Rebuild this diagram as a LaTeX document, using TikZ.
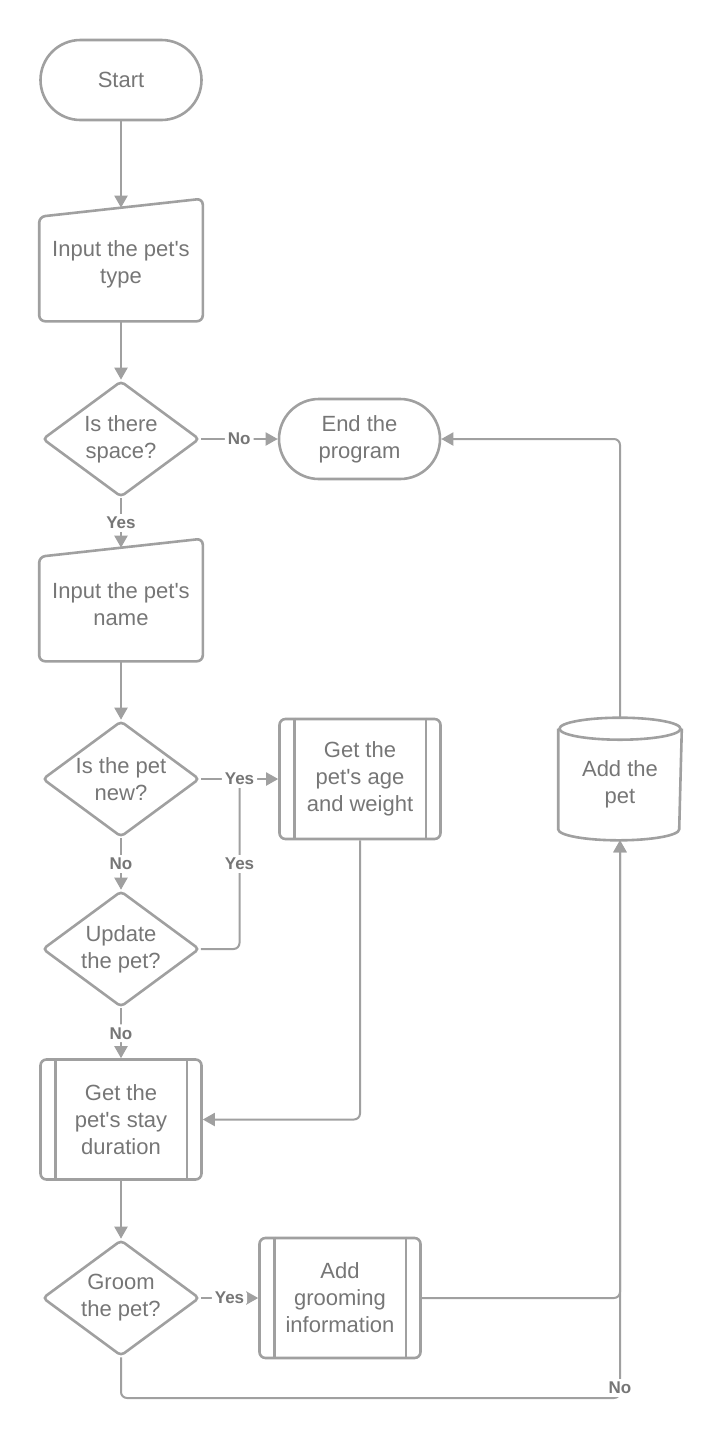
\documentclass[tikz,border=0pt]{standalone}
\usepackage{fontspec}
\newfontfamily\chartfont{Liberation Sans}
\usetikzlibrary{arrows.meta,positioning,shapes.geometric,calc}
\definecolor{linegray}{RGB}{160,160,160}
\definecolor{textgray}{RGB}{118,118,118}

\begin{document}
\begin{tikzpicture}[x=0.5pt,y=-0.5pt,on grid,>={Triangle[length=6pt,width=6.5pt]},
        base/.style={font=\chartfont\fontsize{11}{13.5}\selectfont,text=textgray,align=center,
          inner sep=0pt,line width=1.3pt,draw=linegray},
        term/.style={base,rectangle,rounded corners=20pt,minimum width=80.5pt,minimum height=40pt},
        inbox/.style={base,draw=none,minimum width=80.5pt,minimum height=55.5pt},
        decision/.style={base,diamond,aspect=1.35,rounded corners=2pt,minimum width=78.5pt,minimum height=58pt},
        subproc/.style={base,rectangle,rounded corners=3pt,minimum width=80.5pt,minimum height=60pt},
        store/.style={base,draw=none,minimum width=60.5pt,minimum height=54.5pt},
        outline/.style={draw=linegray,line width=1.3pt},
        conn/.style={draw=linegray,line width=1pt,rounded corners=3pt},
        lbl/.style={font=\chartfont\fontsize{8.5}{10}\selectfont\bfseries,text=textgray,fill=white,inner sep=1.5pt}]
        \useasboundingbox (0,0) rectangle (720,1441);

        \node[term] (start) at (121,80) {Start};
        \node[inbox] (type) [below=92.25pt of start] {Input the pet's\\type};
        \node[decision] (space) [below=87.25pt of type] {Is there\\space?};
        \node[term] (end) [right=119.25pt of space] {End the\\program};
        \node[inbox] (name) [below=82.75pt of space] {Input the pet's\\name};
        \node[decision] (newpet) [below=87.25pt of name] {Is the pet\\new?};
        \node[subproc] (age) [right=119.5pt of newpet] {Get the\\pet's age\\and weight};
        \node[decision] (upd) [below=85pt of newpet] {Update\\the pet?};
        \node[subproc] (stay) [below=85.25pt of upd] {Get the\\pet's stay\\duration};
        \node[decision] (groom) [below=89.25pt of stay] {Groom\\the pet?};
        \node[subproc] (gro) [right=109.5pt of groom] {Add\\grooming\\information};
        \node[store] (db) [right=130pt of age,yshift=-2.75pt] {Add the\\pet};

        % manual input outlines
        \foreach \n in {type,name}
          \draw[outline,rounded corners=3pt] ($(\n.north west)+(0,-4.5pt)$) -- ($(\n.north east)+(0,4.5pt)$)
            -- (\n.south east) -- (\n.south west) -- cycle;
        % side bars of the subprocesses
        \foreach \n in {age,stay,gro} {
          \draw[outline] ($(\n.north west)+(8pt,0)$) -- ($(\n.south west)+(8pt,0)$);
          \draw[outline] ($(\n.north east)+(-8pt,0)$) -- ($(\n.south east)+(-8pt,0)$);
        }
        % cylinder
        \draw[outline] (db.north west) -- ($(db.south west)+(0,5.5pt)$)
          arc[start angle=180,end angle=360,x radius=30.25pt,y radius=5.5pt] -- (db.north east);
        \draw[outline] (db.north) ellipse[x radius=30.25pt,y radius=5.5pt];

        \coordinate (j1) at ($(newpet.east)!0.5!(age.west)$);
        \coordinate (dbtop) at ($(db.north)+(0,5.5pt)$);
        \coordinate (nocorner) at (db.south |- 0,1398);

        \draw[conn,->] (start) -- (type);
        \draw[conn,->] (type) -- (space);
        \draw[conn,->] (space.east) -- node[lbl] {No} (space.east -| end.west);
        \draw[conn,->] (space) -- node[lbl] {Yes} (name);
        \draw[conn,->] (name) -- (newpet);
        \draw[conn] (upd.east) -| node[lbl,pos=0.75] {Yes} (j1);
        \draw[conn,->] (newpet.east) -- node[lbl] {Yes} (newpet.east -| age.west);
        \draw[conn,->] (newpet) -- node[lbl] {No} (upd);
        \draw[conn,->] (upd) -- node[lbl] {No} (stay);
        \draw[conn,->] (age.south) |- (stay.east);
        \draw[conn,->] (stay) -- (groom);
        \draw[conn,->] (groom.east) -- node[lbl] {Yes} (groom.east -| gro.west);
        \draw[conn,->] (gro.east) -| (db.south);
        \draw[conn,->] (groom.south) |- (nocorner) node[lbl,yshift=5pt] {No} -- (db.south);
        \draw[conn,->] (dbtop) |- (end.east);
      \end{tikzpicture}
\end{document}
